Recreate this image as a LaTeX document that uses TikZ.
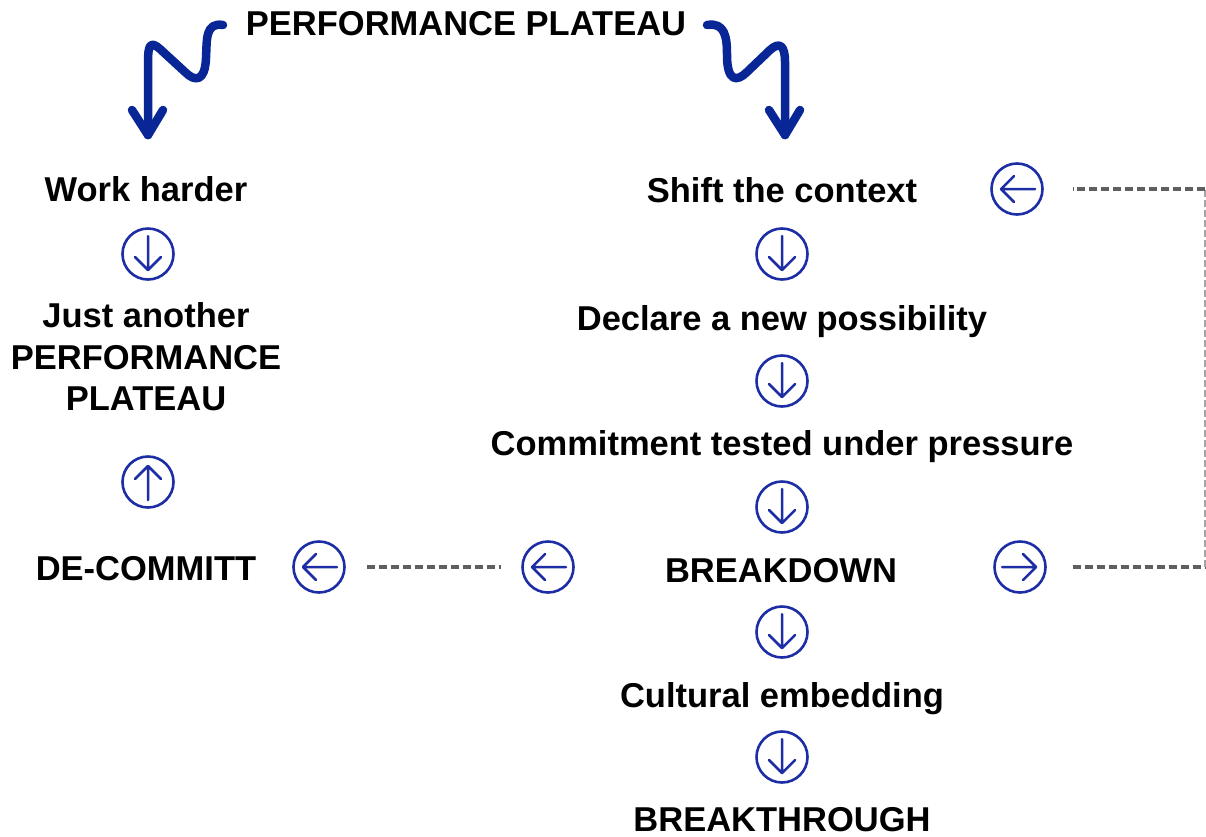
\documentclass[tikz,border=0pt]{standalone}
\usepackage{fontspec}
\setmainfont{Liberation Sans}
\definecolor{iconblue}{RGB}{28,45,165}
\definecolor{squiggle}{RGB}{8,38,150}
\definecolor{dashgray}{RGB}{95,95,95}
\definecolor{lightgray}{RGB}{165,165,165}
\begin{document}
\begin{tikzpicture}[x=1pt,y=-1pt,
  lbl/.style={font=\fontsize{34.5}{41.5}\selectfont\bfseries, anchor=base, inner sep=0pt, align=center},
  icon/.style 2 args={circle, draw=iconblue, line width=2.6pt, minimum size=51pt, inner sep=0pt,
    path picture={\draw[iconblue, line width=2.5pt, line cap=round, line join=round,
      shift={(path picture bounding box.center)}]
      ({-18*(#1)},{-18*(#2)}) -- ({16*(#1)},{16*(#2)})
      ({3*(#1)+13*(#2)},{3*(#2)+13*(#1)}) -- ({16*(#1)},{16*(#2)}) -- ({3*(#1)-13*(#2)},{3*(#2)-13*(#1)});}},
  iconD/.style={icon={0}{1}},
  iconU/.style={icon={0}{-1}},
  iconL/.style={icon={-1}{0}},
  iconR/.style={icon={1}{0}},
  squig/.style={draw=squiggle, line width=8.5pt, line cap=round, line join=round},
  dashline/.style={draw=dashgray, line width=3.5pt, dash pattern=on 8pt off 4pt},
  vline/.style={draw=lightgray, line width=1.5pt, dash pattern=on 7pt off 3pt}]
\useasboundingbox (0,0) rectangle (1206,836);

% title
\node[lbl] (title) at (466,35) {PERFORMANCE PLATEAU};

% left column
\node[lbl] (wh) at (146,201) {Work harder};
\node[iconD] (i1) at (148,254) {};
\node[lbl, anchor=center] (jap) at (146,357) {Just another\\PERFORMANCE\\PLATEAU};
\node[iconU] (i2) at (148,482) {};
\node[lbl] (dc) at (146,580) {DE-COMMITT};
\node[iconL] (i3) at (319,567) {};
\node[iconL] (i4) at (548,567) {};

% right column
\node[lbl] (sc) at (782,202) {Shift the context};
\node[iconL] (i6) at (1017,189) {};
\node[iconD] (r1) at (782,254) {};
\node[lbl] (dnp) at (782,330) {Declare a new possibility};
\node[iconD] (r2) at (782,381) {};
\node[lbl] (ctp) at (782,455) {Commitment tested under pressure};
\node[iconD] (r3) at (782,507) {};
\node[lbl] (bd) at (781,582) {BREAKDOWN};
\node[iconR] (i5) at (1020,567) {};
\node[iconD] (r4) at (782,632) {};
\node[lbl] (ce) at (782,707) {Cultural embedding};
\node[iconD] (r5) at (782,757) {};
\node[lbl] (bt) at (782,831) {BREAKTHROUGH};

% squiggly arrows from the title
\coordinate (sl) at (223,25);
\coordinate (tl) at (148,135);
\draw[squig] (sl) .. controls (205,22) and (207,40) .. (206,58)
  .. controls (205,82) and (195,82) .. (185,72) -- (160,49)
  .. controls (150,40) and (148,46) .. (148,62) -- (tl);
\draw[squig] (132,110) -- (tl) -- (163,110);

\coordinate (sr) at (707,25);
\coordinate (tr) at (785,135);
\draw[squig] (sr) .. controls (725,22) and (727,37) .. (727,55)
  .. controls (727,82) and (737,82) .. (747,72) -- (770,50)
  .. controls (780,41) and (785,46) .. (785,62) -- (tr);
\draw[squig] (769,110) -- (tr) -- (800,110);

% dashed links
\draw[dashline, shorten <=21pt, shorten >=20pt] (i3.east) -- (i4.west);
\coordinate (cr) at (1205,567);
\coordinate (ct) at (1205,189);
\draw[dashline, shorten <=26pt] (i5.east) -- (cr);
\draw[vline] (cr) -- (ct);
\draw[dashline, shorten >=29pt] (ct) -- (i6.east);
\end{tikzpicture}
\end{document}
